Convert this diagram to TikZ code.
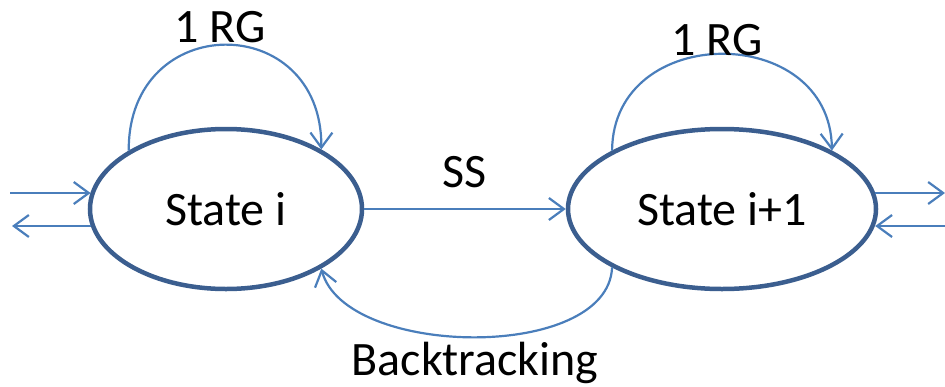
\documentclass[tikz,border=0pt]{standalone}
\usepackage{fontspec}
\setmainfont{Carlito}
\usetikzlibrary{arrows.meta,shapes.geometric}
\definecolor{statecol}{HTML}{3B5E8F}
\definecolor{linkcol}{HTML}{4A7EBB}
\begin{document}
\begin{tikzpicture}[x=1pt,y=-1pt,
  statebox/.style={ellipse,draw=statecol,line width=4.5pt,inner sep=0pt,
    font=\fontsize{48}{56}\selectfont},
  conn/.style={draw=linkcol,line width=2.2pt,
    -{Straight Barb[length=15pt,width=22pt,line width=2.2pt]}},
  lbl/.style={font=\fontsize{48}{56}\selectfont,inner sep=0pt}]
\useasboundingbox (0,0) rectangle (945,386);

% the two states
\node[statebox,minimum width=272pt,minimum height=160pt] (s1) at (226,209) {State i};
\node[statebox,minimum width=308pt,minimum height=160pt] (s2) at (722,209) {State i+1};

% free ends of the side arrows
\coordinate (inL)  at (10,193);
\coordinate (outL) at (12,226);
\coordinate (outR) at (945,193);
\coordinate (inR)  at (945,226);

% self loops
\draw[conn] (s1.149) .. controls (128,10) and (322,10) .. (s1.32);
\draw[conn] (s2.152) .. controls (613,22) and (830,22) .. (s2.28);

% forward and backward transitions
\draw[conn] (s1.east) -- (s2.west);
\draw[conn] (s2.208) .. controls (608,362) and (345,358) .. (s1.328);

% side arrows
\draw[conn] (inL) -- (inL -| s1.173);
\draw[conn] (outL -| s1.187) -- (outL);
\draw[conn] (outR -| s2.6) -- (outR);
\draw[conn] (inR) -- (inR -| s2.354);

% labels
\node[lbl] (rg1) at (220,27) {1 RG};
\node[lbl] (rg2) at (717,40) {1 RG};
\node[lbl] (ss) at (465,172) {SS};
\node[lbl] (bt) at (475,363) {Backtracking};
\end{tikzpicture}
\end{document}
